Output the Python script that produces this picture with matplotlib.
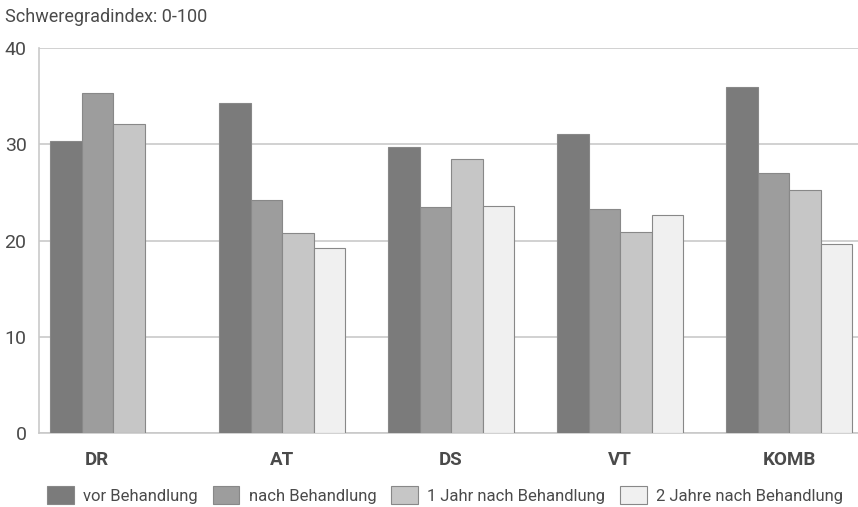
import numpy as np
import matplotlib.pyplot as plt
from matplotlib.patches import Patch

categories = ["DR", "AT", "DS", "VT", "KOMB"]
series_names = ["vor Behandlung", "nach Behandlung", "1 Jahr nach Behandlung", "2 Jahre nach Behandlung"]
vor = [30.3, 34.3, 29.7, 31.1, 35.9]
nach = [35.3, 24.2, 23.5, 23.3, 27.0]
jahr1 = [32.1, 20.8, 28.5, 20.9, 25.2]
jahr2 = [np.nan, 19.2, 23.6, 22.6, 19.6]
yticks = [0, 10, 20, 30, 40]

colors = ["#7b7b7b", "#9d9d9d", "#c6c6c6", "#f0f0f0"]
text_col = "#4a4a4a"
grid_col = "#c9c9c9"

plt.rcParams["font.family"] = ["Roboto", "DejaVu Sans"]

fig = plt.figure(figsize=(8.58, 5.07), dpi=100)
ax = fig.add_axes([39 / 858, 1 - 433 / 507, 1 - 39 / 858, (433 - 48) / 507])

w = 31.5 / 169
x = np.arange(len(categories))
all_series = [vor, nach, jahr1, jahr2]
for k, vals in enumerate(all_series):
    ax.bar(x + k * w, vals, width=w, align="edge", color=colors[k],
           edgecolor="#888888", linewidth=0.8, zorder=3)

# label centred on the bars actually drawn in each group
tick_pos = []
for i in range(len(categories)):
    n = sum(1 for vals in all_series if not np.isnan(vals[i]))
    tick_pos.append(i + n * w / 2)
ax.set_xticks(tick_pos)
ax.set_xticklabels(categories, fontsize=13.5, fontweight="bold", color=text_col)
ax.tick_params(axis="x", length=0, pad=13)

ax.set_ylim(0, 40)
ax.set_xlim(-11 / 169, 808 / 169)
ax.set_yticks(yticks)
ax.set_yticklabels([str(t) for t in yticks], fontsize=14, color=text_col)
ax.tick_params(axis="y", length=0, pad=9)
ax.grid(axis="y", color=grid_col, linewidth=1.2, zorder=0)
for s in ["top", "right"]:
    ax.spines[s].set_visible(False)
for s in ["left", "bottom"]:
    ax.spines[s].set_color(grid_col)
    ax.spines[s].set_linewidth(1.2)

fig.text(5 / 858, 1 - 17 / 507, "Schweregradindex: 0-100", fontsize=13,
         color=text_col, va="center", ha="left")

handles = [Patch(facecolor=colors[k], edgecolor="#888888", linewidth=0.8) for k in range(4)]
fig.legend(handles, series_names, loc="center", bbox_to_anchor=(445 / 858, 1 - 495 / 507),
           ncol=4, frameon=False, fontsize=12, labelcolor=text_col,
           handlelength=1.6, handleheight=1.2, handletextpad=0.55, columnspacing=0.9)

fig.savefig("out.png", dpi=100)
